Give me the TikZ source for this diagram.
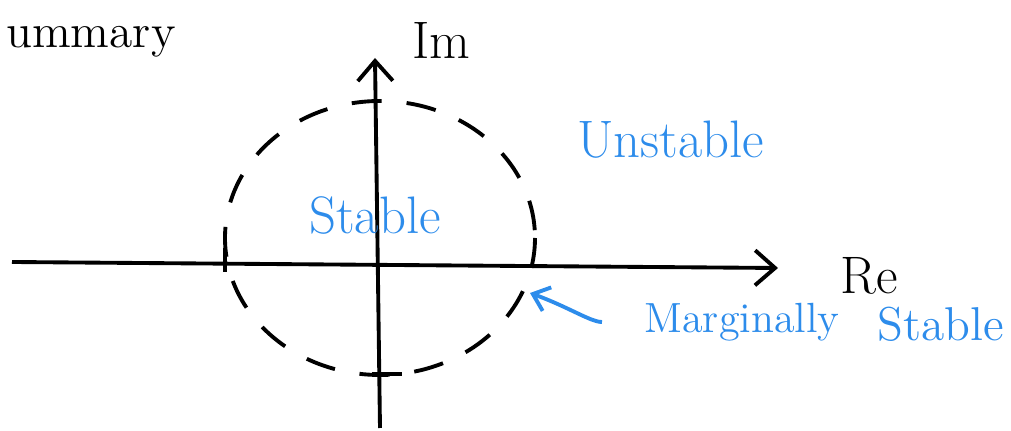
\documentclass[tikz,border=0pt]{standalone}
\usetikzlibrary{arrows.meta, positioning}
\definecolor{sketchblue}{RGB}{45,140,235}

\begin{document}
\begin{tikzpicture}[x=0.01cm, y=-0.01cm,
    axis/.style={line width=1.1pt, -{Straight Barb[length=2mm, width=3.5mm]}},
    unitcircle/.style={line width=1.1pt, dash pattern=on 3mm off 2.5mm},
    tickmark/.style={line width=1.1pt},
    axislabel/.style={font=\fontsize{15}{17}\selectfont},
    note/.style={text=sketchblue, font=\fontsize{15}{17}\selectfont},
    smallnote/.style={text=sketchblue, font=\fontsize{12}{14}\selectfont},
    pointer/.style={draw=sketchblue, line width=1.1pt, -{Straight Barb[length=1.5mm, width=2.5mm]}}
]
\useasboundingbox (0,0) rectangle (1011,431);
% axes
\coordinate (reL) at (12,262);
\coordinate (reR) at (778,268);
\coordinate (imB) at (380,428);
\coordinate (imT) at (375,58);
\draw[axis] (reL) -- (reR);
\draw[axis] (imB) -- (imT);
% unit circle with ticks
\coordinate (o) at (380,238);
\draw[unitcircle] (o) ellipse [x radius=155, y radius=137];
\draw[tickmark] (225,248) -- (225,272);
\draw[tickmark] (372,374) -- (402,374);
% labels
\node[axislabel, anchor=west] (im) at (400,40) {Im};
\node[axislabel, anchor=west] (re) at (828,276) {Re};
\node[axislabel, anchor=west, font=\fontsize{13.5}{16}\selectfont] (summary) at (-6,42) {ummary};
\node[note] (stable) at (375,215) {Stable};
\node[note, anchor=west] (unstable) at (565,140) {Unstable};
\node[smallnote, anchor=west] (marginally) at (632,322) {Marginally};
\node[note, anchor=east, inner sep=1pt, font=\fontsize{13.5}{16}\selectfont] (stablemarg) at (1008,324) {Stable};
\coordinate (edge) at (530,293);
\draw[pointer, shorten <=3mm] (marginally.west) to[out=180, in=-20] (edge);
\end{tikzpicture}
\end{document}
